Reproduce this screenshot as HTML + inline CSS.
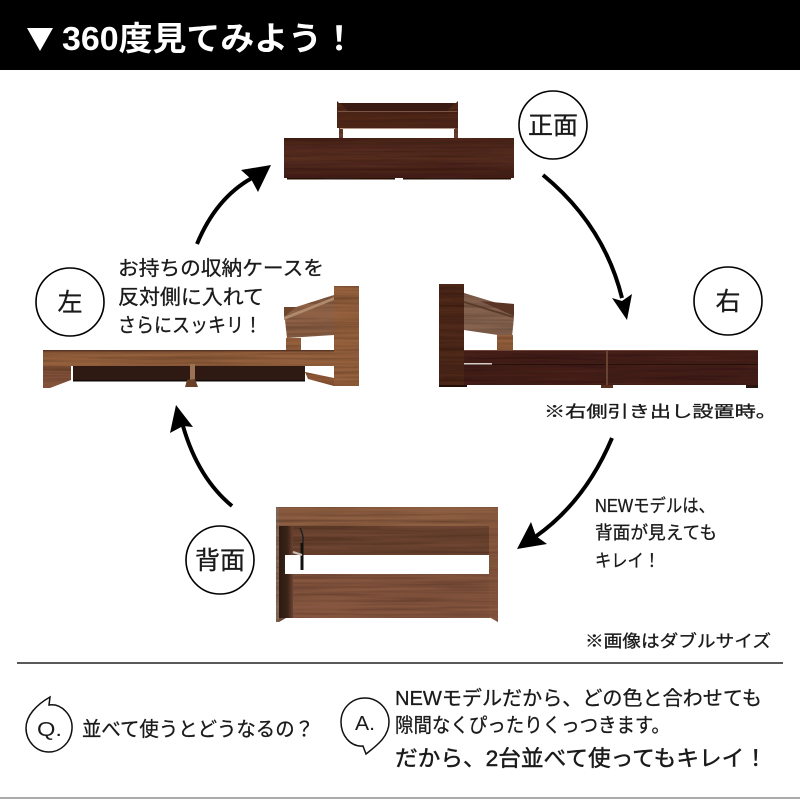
<!DOCTYPE html>
<html lang="ja">
<head>
<meta charset="utf-8">
<style>
html,body{margin:0;padding:0;background:#fff}
svg{display:block}
text{font-family:"Liberation Sans","Noto Sans CJK JP",sans-serif;fill:#1a1a1a;stroke:#1a1a1a;stroke-width:.3}
</style>
</head>
<body>
<svg width="800" height="799" viewBox="0 0 800 799" xmlns="http://www.w3.org/2000/svg">
<defs>
<linearGradient id="d1" x1="0" y1="0" x2="0" y2="1"><stop offset="0" stop-color="#4d271d"/><stop offset=".5" stop-color="#5a3024"/><stop offset="1" stop-color="#45211a"/></linearGradient>
<linearGradient id="dk" x1="0" y1="0" x2="1" y2="0"><stop offset="0" stop-color="#2c1a12"/><stop offset=".6" stop-color="#3a2318"/><stop offset="1" stop-color="#6a4230"/></linearGradient>
<filter id="g" x="0" y="0" width="1" height="1">
<feTurbulence type="fractalNoise" baseFrequency="0.008 0.35" numOctaves="3" seed="4"/>
<feColorMatrix values="0 0 0 0 0 0 0 0 0 0 0 0 0 0 0 0.8 0 0 0 -0.25"/>
<feComposite in2="SourceAlpha" operator="in" result="n"/>
<feMerge><feMergeNode in="SourceGraphic"/><feMergeNode in="n"/></feMerge>
</filter>
</defs>
<rect width="800" height="799" fill="#fff"/>

<!-- header -->
<rect width="800" height="70" fill="#000"/>
<polygon points="27,28 53,28 40,51" fill="#fff"/>
<text x="62" y="50" font-size="33" font-weight="700" style="fill:#fff;stroke:none" textLength="294" lengthAdjust="spacingAndGlyphs">360度見てみよう！</text>

<!-- front view -->
<g filter="url(#g)">
<rect x="339" y="128" width="4" height="11" fill="#6a4030"/>
<rect x="454" y="128" width="4" height="11" fill="#6a4030"/>
<polygon points="337,101 339,103 456,103 458,101 458,128 337,128" fill="#52291e"/>
<rect x="284" y="138" width="230" height="40" fill="url(#d1)"/>
<rect x="287" y="178" width="108" height="1.5" fill="#2a130c"/>
<rect x="403" y="178" width="108" height="1.5" fill="#2a130c"/>
</g>
<polygon points="340,103 455,103 447,111 348,111" fill="#3a1b14"/>
<rect x="338" y="111" width="119" height="1" fill="#7a5544"/>
<rect x="340" y="128" width="115" height="1" fill="#b89a88"/>

<!-- left view -->
<g filter="url(#g)">
<rect x="334" y="286" width="25" height="100" fill="#94603e"/>
<polygon points="284,307 296,307 334,295 334,335 287,338 285,320" fill="#8f6246"/>
<rect x="286" y="338" width="15" height="13" fill="#94603e"/>
<rect x="43" y="351" width="291" height="15" fill="#94603e"/>
<polygon points="43,366 71,366 71,380 50,388 43,388" fill="#84523a"/>
<polygon points="305,372 334,378 334,386 308,379" fill="#8a5636"/>
</g>
<polygon points="284,317 334,297 334,300 284,320" fill="#b08a6c"/>
<polygon points="284,307 296,307 284,317" fill="#6e452e"/>
<rect x="43" y="350" width="291" height="1.5" fill="#5a3422"/>
<rect x="73" y="366" width="232" height="15" fill="#2e1a12"/>
<rect x="73" y="380" width="232" height="1.5" fill="#100806"/>
<rect x="190" y="364" width="5" height="16" fill="#9a7254"/>
<polygon points="187,380 195,379 198,387 185,387" fill="#6a4028"/>

<!-- right view -->
<g filter="url(#g)">
<rect x="439" y="284" width="25" height="102" fill="#50291d"/>
<polygon points="464,293 497,303 514,304 514,317 512,337 464,330" fill="#866350"/>
<rect x="497" y="335" width="16" height="15" fill="#94603e"/>
<rect x="464" y="350" width="294" height="35" fill="#47241a"/>
</g>
<polygon points="464,301 513,316 513,318 464,303" fill="#5a3a2a"/>
<polygon points="480,301 514,304 514,316" fill="#5a3526"/>
<rect x="464" y="350" width="294" height="1" fill="#704636"/>
<rect x="464" y="364" width="294" height="1" fill="#271008"/>
<rect x="464" y="363" width="28" height="1.5" fill="#d8d0c8"/>
<rect x="606" y="351" width="2" height="35" fill="#6a4232"/>
<rect x="439" y="385" width="28" height="2" fill="#221008"/>
<rect x="601" y="385" width="12" height="3" fill="#5a3020"/>
<rect x="746" y="385" width="12" height="3" fill="#291510"/>

<!-- back view -->
<g filter="url(#g)">
<rect x="277" y="507" width="221" height="19" fill="#8e5e42"/>
<rect x="293" y="526" width="197" height="29" fill="#6d4431"/>
<rect x="293" y="574" width="197" height="44" fill="#865740"/>
<polygon points="489,526 498,526 498,622 489,617" fill="#8a5a40"/>
<rect x="276" y="507" width="3" height="115" fill="#8a6a58"/>
</g>
<rect x="279" y="526" width="14" height="92" fill="url(#dk)"/>
<polygon points="279,618 286,618 279,622" fill="#6a4a38"/>
<rect x="285" y="555" width="204" height="19" fill="#fff"/>
<path d="M300,528 Q305,538 302,546 L302,560" stroke="#222" stroke-width="1.5" fill="none"/>
<path d="M302,543 L302,570" stroke="#111" stroke-width="3" fill="none"/>
<line x1="293" y1="552" x2="302" y2="555" stroke="#c8c0b8" stroke-width="2"/>

<!-- arrows -->
<g fill="none" stroke="#000" stroke-width="4">
<path d="M197,244 Q216,198 252,178"/>
<path d="M543,175 Q604,225 622,298"/>
<path d="M612,438 Q585,502 535,537"/>
<path d="M232,506 Q198,478 183,426"/>
</g>
<g fill="#000">
<polygon points="271,165 241,170 251,179 258,192"/>
<polygon points="627,320 612,298 622,301 632,294"/>
<polygon points="517,549 531,522 536,536 547,544"/>
<polygon points="176,405 170,433 183,426 193,427"/>
</g>

<!-- circles -->
<g fill="#fff" stroke="#000" stroke-width="1.6">
<circle cx="553" cy="125" r="34"/>
<circle cx="728" cy="301" r="34"/>
<circle cx="70" cy="302" r="34"/>
<circle cx="220" cy="560" r="34"/>
</g>
<g font-size="25" text-anchor="middle" style="stroke-width:.9">
<text x="553" y="134">正面</text>
<text x="728" y="310">右</text>
<text x="70" y="311">左</text>
<text x="220" y="569">背面</text>
</g>

<!-- captions -->
<text x="118" y="275" font-size="20" textLength="206" lengthAdjust="spacingAndGlyphs">お持ちの収納ケースを</text>
<text x="118" y="304" font-size="20.5" textLength="146" lengthAdjust="spacingAndGlyphs">反対側に入れて</text>
<text x="118" y="332" font-size="20" textLength="144" lengthAdjust="spacingAndGlyphs">さらにスッキリ！</text>
<g font-size="18">
<text x="595" y="512" textLength="120" lengthAdjust="spacingAndGlyphs">NEWモデルは、</text>
<text x="595" y="539" textLength="122" lengthAdjust="spacingAndGlyphs">背面が見えても</text>
<text x="595" y="567" textLength="65" lengthAdjust="spacingAndGlyphs">キレイ！</text>
</g>
<text x="544" y="417" font-size="16" textLength="233" lengthAdjust="spacingAndGlyphs">※右側引き出し設置時。</text>
<text x="585" y="647" font-size="17" textLength="186" lengthAdjust="spacingAndGlyphs">※画像はダブルサイズ</text>

<line x1="17" y1="663" x2="783" y2="663" stroke="#222" stroke-width="1.5"/>

<!-- Q -->
<path d="M50,697 L49,705 C62,703 73,716 72,729 C71,743 60,752 49,752 C36,752 26,741 26,728 C26,716 36,705 50,697 Z" fill="#fff" stroke="#111" stroke-width="1.5"/>
<text x="37" y="736" font-size="20" style="stroke:none" textLength="25" lengthAdjust="spacingAndGlyphs">Q.</text>
<text x="82" y="736" font-size="20" textLength="232" lengthAdjust="spacingAndGlyphs">並べて使うとどうなるの？</text>

<!-- A -->
<path d="M366,754 L363,746 C350,747 341,735 341,722 C341,708 352,698 365,698 C378,698 389,709 389,722 C389,737 376,746 366,754 Z" fill="#fff" stroke="#111" stroke-width="1.5"/>
<text x="355" y="730" font-size="20" style="stroke:none" textLength="20" lengthAdjust="spacingAndGlyphs">A.</text>

<text x="395" y="705" font-size="20" textLength="367" lengthAdjust="spacingAndGlyphs">NEWモデルだから、どの色と合わせても</text>
<text x="395" y="732" font-size="20" textLength="275" lengthAdjust="spacingAndGlyphs">隙間なくぴったりくっつきます。</text>
<text x="395" y="766" font-size="22" textLength="372" lengthAdjust="spacingAndGlyphs" style="stroke-width:.45">だから、2台並べて使ってもキレイ！</text>

<rect x="0" y="797" width="800" height="2" fill="#aaa"/>
</svg>
</body>
</html>
